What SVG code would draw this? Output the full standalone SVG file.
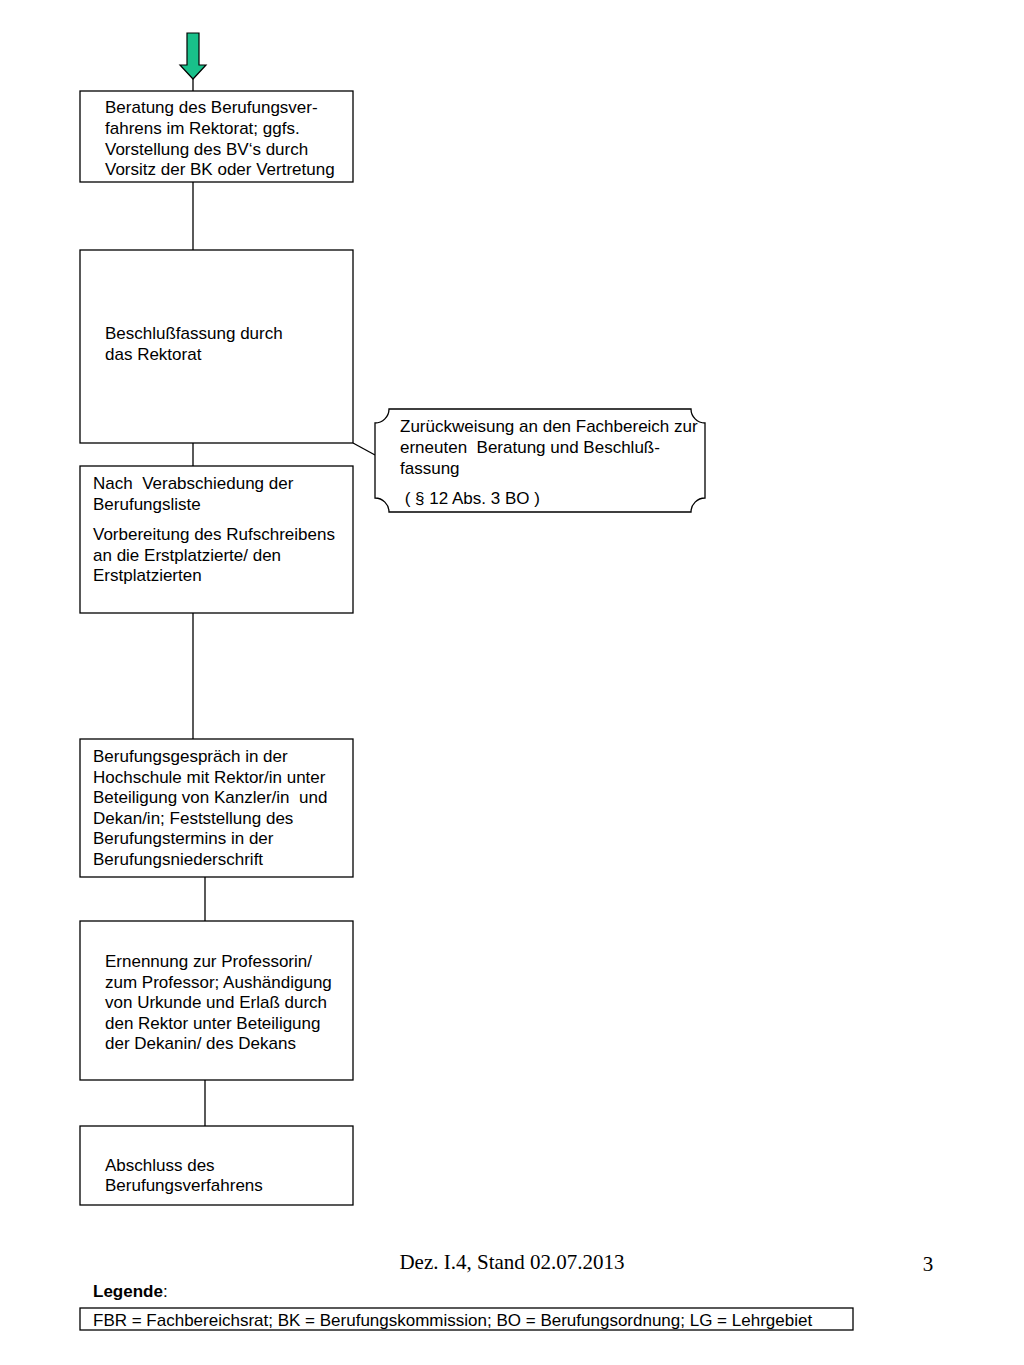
<svg xmlns="http://www.w3.org/2000/svg" width="1024" height="1365" viewBox="0 0 1024 1365">
<style>
.b{fill:#fff;stroke:#000;stroke-width:1.3}
.t{font-family:"Liberation Sans",Arial,sans-serif;font-size:17px;fill:#000;white-space:pre}
.c{stroke:#000;stroke-width:1.3;fill:none}
</style>
<rect width="1024" height="1365" fill="#fff"/>
<g id="connectors">
<line class="c" x1="193" y1="79" x2="193" y2="91"/>
<line class="c" x1="193" y1="182" x2="193" y2="250"/>
<line class="c" x1="193" y1="443" x2="193" y2="466"/>
<polyline class="c" points="353,443 375,455"/>
<line class="c" x1="193" y1="613" x2="193" y2="739"/>
<line class="c" x1="205" y1="877" x2="205" y2="921"/>
<line class="c" x1="205" y1="1080" x2="205" y2="1126"/>
</g>
<g id="start-arrow">
<path d="M187,33 H199 V65 H206 L193,79 L180,65 H187 Z" fill="#19c08a" stroke="#000" stroke-width="1.2"/>
</g>
<g id="n1">
<rect class="b" x="80" y="91" width="273" height="91"/>
<text class="t" x="105" y="113">Beratung des Berufungsver-</text>
<text class="t" x="105" y="134">fahrens im Rektorat; ggfs.</text>
<text class="t" x="105" y="155">Vorstellung des BV‘s durch</text>
<text class="t" x="105" y="175">Vorsitz der BK oder Vertretung</text>
</g>
<g id="n2">
<rect class="b" x="80" y="250" width="273" height="193"/>
<text class="t" x="105" y="339">Beschlußfassung durch</text>
<text class="t" x="105" y="360">das Rektorat</text>
</g>
<g id="n3">
<rect class="b" x="80" y="466" width="273" height="147"/>
<text class="t" x="93" y="489">Nach  Verabschiedung der</text>
<text class="t" x="93" y="510">Berufungsliste</text>
<text class="t" x="93" y="540">Vorbereitung des Rufschreibens</text>
<text class="t" x="93" y="561">an die Erstplatzierte/ den</text>
<text class="t" x="93" y="581">Erstplatzierten</text>
</g>
<g id="n-reject">
<path class="b" d="M389,409 H691 A14,14 0 0 0 705,423 V498 A14,14 0 0 0 691,512 H389 A14,14 0 0 0 375,498 V423 A14,14 0 0 0 389,409 Z"/>
<text class="t" x="400" y="432">Zurückweisung an den Fachbereich zur</text>
<text class="t" x="400" y="453">erneuten  Beratung und Beschluß-</text>
<text class="t" x="400" y="474">fassung</text>
<text class="t" x="400" y="504"> ( § 12 Abs. 3 BO )</text>
</g>
<g id="n4">
<rect class="b" x="80" y="739" width="273" height="138"/>
<text class="t" x="93" y="762">Berufungsgespräch in der</text>
<text class="t" x="93" y="783">Hochschule mit Rektor/in unter</text>
<text class="t" x="93" y="803">Beteiligung von Kanzler/in  und</text>
<text class="t" x="93" y="824">Dekan/in; Feststellung des</text>
<text class="t" x="93" y="844">Berufungstermins in der</text>
<text class="t" x="93" y="865">Berufungsniederschrift</text>
</g>
<g id="n5">
<rect class="b" x="80" y="921" width="273" height="159"/>
<text class="t" x="105" y="967">Ernennung zur Professorin/</text>
<text class="t" x="105" y="988">zum Professor; Aushändigung</text>
<text class="t" x="105" y="1008">von Urkunde und Erlaß durch</text>
<text class="t" x="105" y="1029">den Rektor unter Beteiligung</text>
<text class="t" x="105" y="1049">der Dekanin/ des Dekans</text>
</g>
<g id="n6">
<rect class="b" x="80" y="1126" width="273" height="79"/>
<text class="t" x="105" y="1171">Abschluss des</text>
<text class="t" x="105" y="1191">Berufungsverfahrens</text>
</g>
<g id="footer">
<text x="512" y="1269" text-anchor="middle" font-family="Liberation Serif,'Times New Roman',serif" font-size="21">Dez. I.4, Stand 02.07.2013</text>
<text x="928" y="1271" text-anchor="middle" font-family="Liberation Serif,'Times New Roman',serif" font-size="21">3</text>
<text class="t" x="93" y="1297" font-size="16"><tspan font-weight="bold">Legende</tspan>:</text>
<rect x="80" y="1308" width="773" height="22" fill="#fff" stroke="#000" stroke-width="1.3"/>
<text class="t" x="93" y="1326">FBR = Fachbereichsrat; BK = Berufungskommission; BO = Berufungsordnung; LG = Lehrgebiet</text>
</g>
</svg>
